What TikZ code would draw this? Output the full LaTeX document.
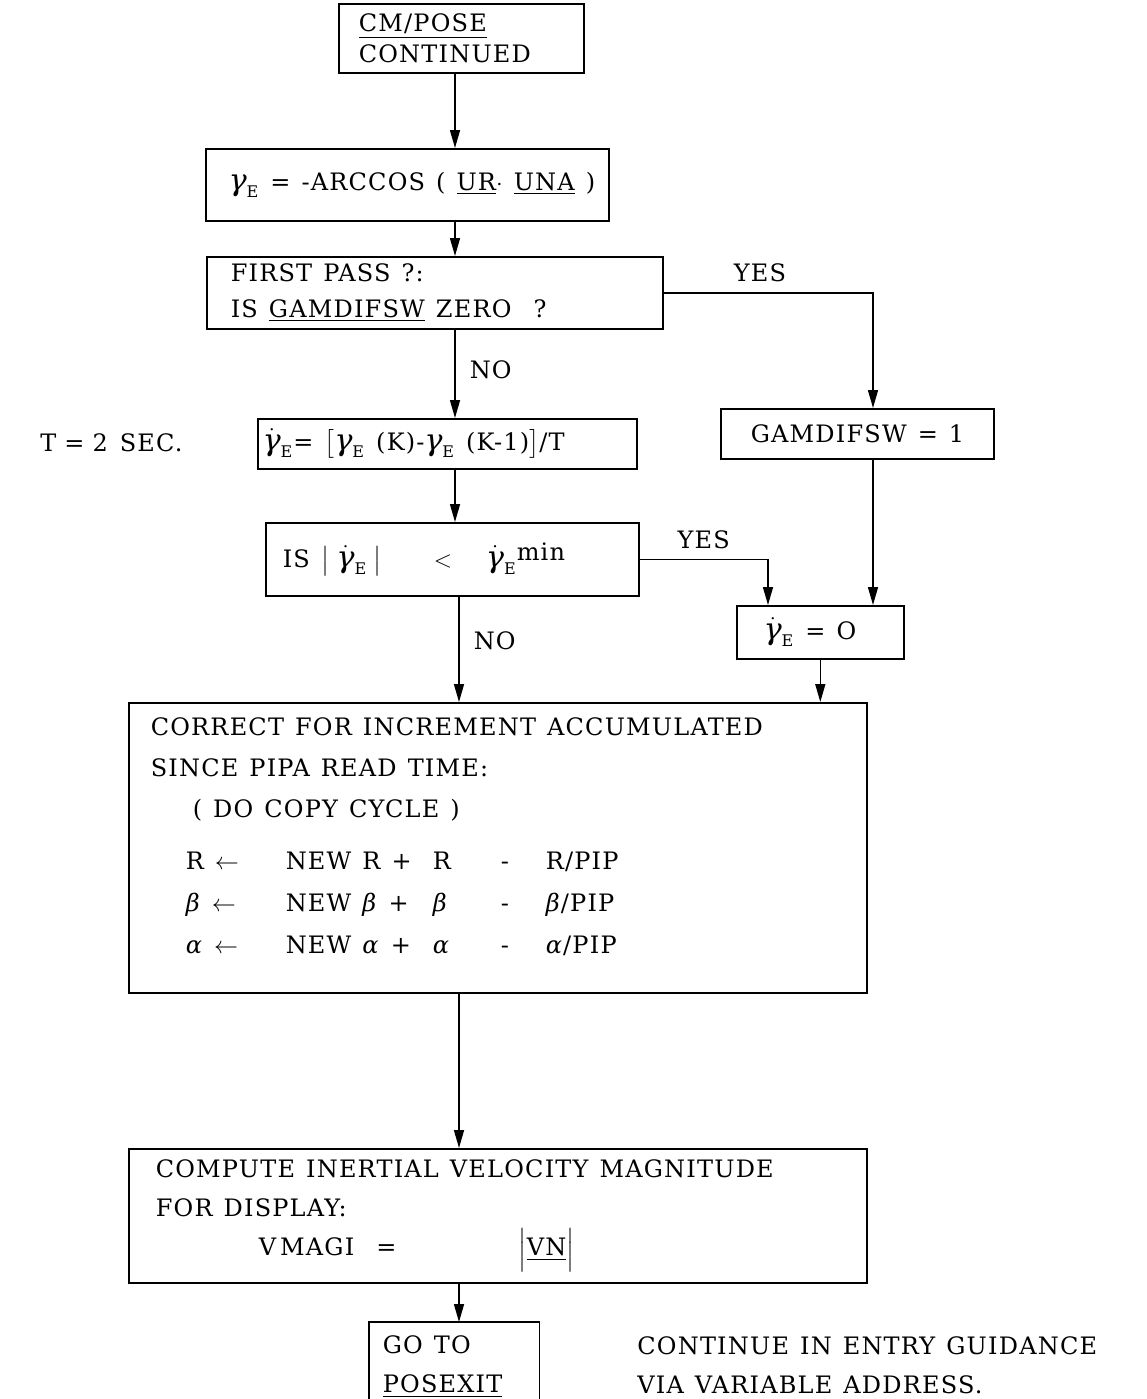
\documentclass[tikz,border=0pt]{standalone}
\usepackage{amsmath}
\usepackage{fontspec}
\setmainfont{DejaVu Serif}[LetterSpace=5,WordSpace=1.25]
\usetikzlibrary{arrows.meta,positioning}
\newcommand{\gE}{\text{\fontsize{15}{15}\selectfont\itshape γ}}
\tikzset{
  flowbox/.style={
    draw=black,
    line width=0.8pt,
    anchor=north west,
    align=flush left,
    inner ysep=0pt,
    font=\fontsize{12}{15}\selectfont,
  },
  flow/.style={
    -{Triangle[length=9pt,width=5pt]},
    line width=0.75pt,
  },
  branch label/.style={
    inner sep=0pt,
    font=\fontsize{12}{15}\selectfont,
  },
  side note/.style={
    anchor=west,
    align=flush left,
    inner sep=0pt,
    font=\fontsize{12}{15}\selectfont,
  },
}
\begin{document}
\begin{tikzpicture}[x=0.5pt,y=-0.5pt]
  \useasboundingbox (0,0) rectangle (1147,1399);

  \node[flowbox, text width=102.5pt, inner xsep=10pt, minimum height=34.5pt] (start) at (338,3) {
    \underline{CM/POSE}\\[0.5pt]CONTINUED
  };
  \node[flowbox, text width=178.5pt, inner xsep=11.5pt, minimum height=36pt] (gam) at (205,148) {
    \mbox{$\gE_{\text{E}}$ = -ARCCOS ( \underline{UR}$\cdot$ \underline{UNA} )}
  };
  \node[flowbox, text width=204pt, inner xsep=12pt, minimum height=36pt] (first) at (206,256) {
    FIRST PASS ?:\\[3pt]\mbox{IS \underline{GAMDIFSW} ZERO~~?}
  };
  \node[flowbox, text width=184.5pt, inner xsep=2.5pt, minimum height=25pt] (rate) at (257,418) {
    \mbox{$\dot{\gE}_{\text{E}}$= $\bigl[\gE_{\text{E}}$ (K)-$\gE_{\text{E}}$ (K-1)$\bigr]$/T}
  };
  \node[flowbox, text width=106.5pt, inner xsep=15pt, minimum height=25pt] (setsw) at (720,408) {
    \mbox{GAMDIFSW = 1}
  };
  \node[flowbox, text width=169.5pt, inner xsep=8.5pt, minimum height=36.5pt] (test) at (265,522) {
    \mbox{IS\hspace{6pt}$\bigl|\;\dot{\gE}_{\text{E}}\;\bigr|$\hspace{26pt}$<$\hspace{17pt}$\dot{\gE}_{\text{E}}$\raisebox{0.5ex}{min}}
  };
  \node[flowbox, text width=56.5pt, inner xsep=13.5pt, minimum height=26.5pt] (zero) at (736,605) {
    \mbox{$\dot{\gE}_{\text{E}}$ = O}
  };

  \node[flowbox, text width=347pt, inner xsep=11pt, minimum height=145pt] (copy) at (128,702) {
    CORRECT FOR INCREMENT ACCUMULATED\\[5.5pt]
    SINCE PIPA READ TIME:\\[5.5pt]
    \hspace*{21pt}( DO COPY CYCLE )\\[11pt]
    \hspace*{17.5pt}\makebox[50pt][l]{R $\leftarrow$}\makebox[73.5pt][l]{NEW R +}\makebox[34pt][l]{R}\makebox[22.5pt][l]{-}R/PIP\\[6pt]
    \hspace*{17.5pt}\makebox[50pt][l]{\textit{β} $\leftarrow$}\makebox[73.5pt][l]{NEW \textit{β} +}\makebox[34pt][l]{\textit{β}}\makebox[22.5pt][l]{-}\textit{β}/PIP\\[6pt]
    \hspace*{17.5pt}\makebox[50pt][l]{\textit{α} $\leftarrow$}\makebox[73.5pt][l]{NEW \textit{α} +}\makebox[34pt][l]{\textit{α}}\makebox[22.5pt][l]{-}\textit{α}/PIP
    \par\kern11pt
  };
  \node[flowbox, text width=342pt, inner xsep=13.5pt, minimum height=67pt] (speed) at (128,1148) {
    COMPUTE INERTIAL VELOCITY MAGNITUDE\\[4.5pt]
    FOR DISPLAY:\\[4.5pt]
    \hspace*{51.5pt}\makebox[130pt][l]{V\,MAGI~~=}$\Big|$\underline{VN}$\Big|$
  };
  \node[flowbox, draw=none, text width=71.5pt, inner xsep=6.5pt, minimum height=44pt] (goto) at (369,1322) {
    GO TO\\[4.5pt]\underline{POSEXIT}
  };

  \node[side note] (period) at (40,443) {T\hspace{4pt}=\hspace{4pt}2\hspace{6pt}SEC.};
  \node[side note] (exitnote) at (637,1365.5) {
    CONTINUE IN ENTRY GUIDANCE\\[4.5pt]VIA VARIABLE ADDRESS.
  };

  \coordinate (trunk) at (455,0);
  \coordinate (lowtrunk) at (459,0);
  \coordinate (swtrunk) at (873,0);
  \coordinate (yestrunk) at (768,0);

  \draw[flow] (start.south -| trunk) -- (gam.north -| trunk);
  \draw[flow] (gam.south -| trunk) -- (first.north -| trunk);
  \draw[flow] (first.south -| trunk)
    -- node[branch label, pos=0.45, right=7pt] {NO} (rate.north -| trunk);
  \draw[flow] (first.east)
    -| node[branch label, pos=0.23, above=5pt] {YES} (swtrunk |- setsw.north);
  \draw[flow] (rate.south -| trunk) -- (test.north -| trunk);
  \draw[flow] (setsw.south -| swtrunk) -- (zero.north -| swtrunk);
  \draw[flow] (test.east)
    -| node[branch label, pos=0.25, above=5pt] {YES} (yestrunk |- zero.north);
  \draw[flow] (test.south -| lowtrunk)
    -- node[branch label, pos=0.42, right=7pt] {NO} (copy.north -| lowtrunk);
  \draw[flow] (zero.south) -- (zero.south |- copy.north);
  \draw[flow] (copy.south -| lowtrunk) -- (speed.north -| lowtrunk);
  \draw[flow] (speed.south -| lowtrunk) -- (goto.north -| lowtrunk);
  \draw[line width=0.8pt] (goto.south west) -- (goto.north west) -- (goto.north east) -- (goto.south east);
\end{tikzpicture}
\end{document}
